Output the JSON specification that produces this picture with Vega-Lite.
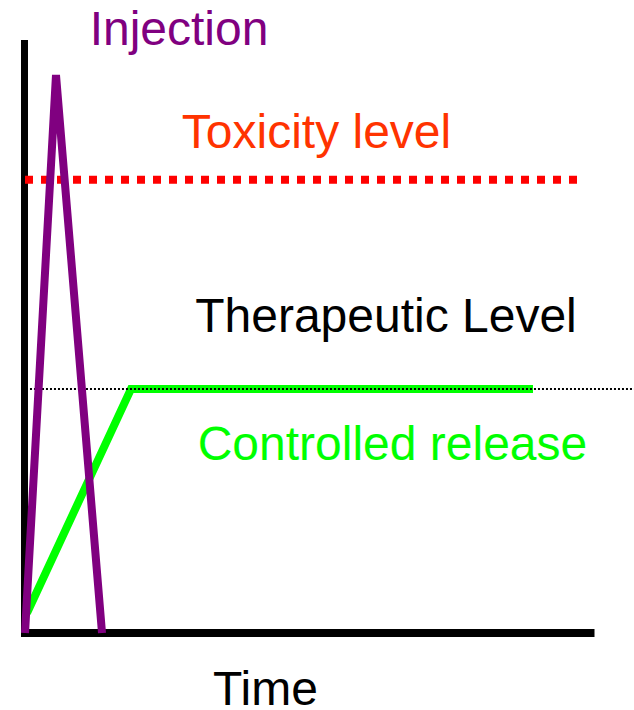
{
  "$schema": "https://vega.github.io/schema/vega-lite/v6.json",
  "width": 634,
  "height": 710,
  "padding": 0,
  "autosize": {"type": "none"},
  "background": "white",
  "config": {"view": {"stroke": null}},
  "datasets": {
    "axes": [
      {"axis": "vertical", "t": 0, "c": -0.72, "t2": 0, "c2": 106.27},
      {"axis": "horizontal", "t": 0.09, "c": 0, "t2": 100, "c2": 0}
    ],
    "toxicity": [
      {"t": 0.088, "c": 81.24},
      {"t": 96.93, "c": 81.24}
    ],
    "controlled": [
      {"t": 0.44, "c": 3.58},
      {"t": 18.68, "c": 43.73},
      {"t": 89.21, "c": 43.73}
    ],
    "therapeutic": [
      {"t": 0.96, "c": 43.73},
      {"t": 106.93, "c": 43.73}
    ],
    "injection": [
      {"t": 0.09, "c": 0},
      {"t": 5.526, "c": 100},
      {"t": 13.6, "c": 0}
    ],
    "labels": [
      {"label": "Injection", "t": 27.11, "c": 105.38},
      {"label": "Toxicity level", "t": 51.23, "c": 86.92},
      {"label": "Therapeutic Level", "t": 63.42, "c": 53.94},
      {"label": "Controlled release", "t": 64.56, "c": 31.0},
      {"label": "Time", "t": 42.28, "c": -12.9}
    ]
  },
  "encoding": {
    "x": {"field": "t", "type": "quantitative", "scale": {"domain": [-4.298, 106.93], "nice": false, "zero": false}, "axis": null},
    "y": {"field": "c", "type": "quantitative", "scale": {"domain": [-13.799, 113.44], "nice": false, "zero": false}, "axis": null}
  },
  "layer": [
    {
      "data": {"name": "axes"},
      "transform": [{"filter": "datum.axis === 'vertical'"}],
      "mark": {"type": "rule", "color": "black", "strokeWidth": 7, "strokeCap": "butt"},
      "encoding": {"x2": {"field": "t2"}, "y2": {"field": "c2"}}
    },
    {
      "data": {"name": "axes"},
      "transform": [{"filter": "datum.axis === 'horizontal'"}],
      "mark": {"type": "rule", "color": "black", "strokeWidth": 8, "strokeCap": "butt"},
      "encoding": {"x2": {"field": "t2"}, "y2": {"field": "c2"}}
    },
    {
      "data": {"name": "toxicity"},
      "mark": {"type": "line", "color": "#FF0000", "strokeWidth": 8, "strokeDash": [8, 8], "strokeCap": "butt"},
      "encoding": {}
    },
    {
      "data": {"name": "controlled"},
      "mark": {"type": "line", "color": "#00FF00", "strokeWidth": 8, "strokeJoin": "miter", "strokeCap": "butt"},
      "encoding": {}
    },
    {
      "data": {"name": "therapeutic"},
      "mark": {"type": "line", "color": "black", "strokeWidth": 2, "strokeDash": [2, 2], "strokeCap": "butt"},
      "encoding": {}
    },
    {
      "data": {"name": "injection"},
      "mark": {"type": "line", "color": "#800080", "strokeWidth": 8, "strokeJoin": "bevel", "strokeCap": "butt"},
      "encoding": {}
    },
    {
      "data": {"name": "labels"},
      "mark": {"type": "text", "font": "Liberation Sans", "fontSize": 48, "align": "center", "baseline": "alphabetic"},
      "encoding": {
        "text": {"field": "label"},
        "color": {
          "field": "label",
          "type": "nominal",
          "scale": {
            "domain": ["Injection", "Toxicity level", "Therapeutic Level", "Controlled release", "Time"],
            "range": ["#800080", "#FF3300", "#000000", "#00FF00", "#000000"]
          },
          "legend": null
        }
      }
    }
  ]
}
